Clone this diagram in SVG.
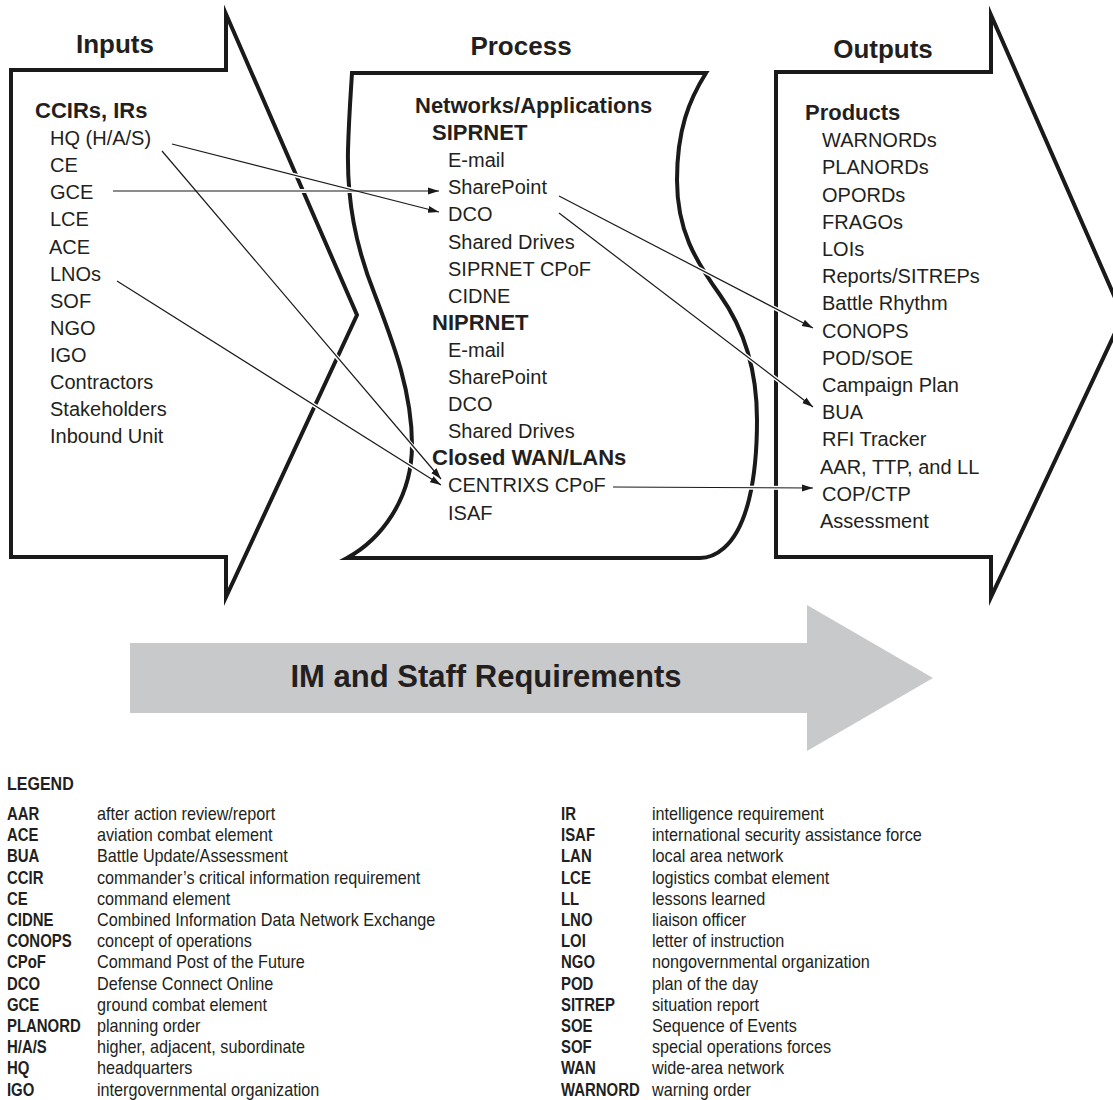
<svg xmlns="http://www.w3.org/2000/svg" width="1113" height="1100" viewBox="0 0 1113 1100">
<style>
text{font-family:"Liberation Sans",Arial,sans-serif;fill:#231f20}
.title{font-size:26px;font-weight:bold}
.hd{font-size:22px;font-weight:bold}
.it{font-size:20px}
.shape{fill:#fff;stroke:#1a1a1a;stroke-width:4;stroke-linejoin:miter;stroke-miterlimit:20}
.lab{font-size:18px;font-weight:bold}
.desc{font-size:18px}
.halo line{stroke:#fff;stroke-width:4}
.conn line{stroke:#1a1a1a;stroke-width:1.2}
</style>
<defs>
<marker id="ah" markerUnits="userSpaceOnUse" markerWidth="11" markerHeight="8" refX="11" refY="4" orient="auto">
<path d="M0,0.5 L11,4 L0,7.5 z" fill="#1a1a1a"/>
</marker>
</defs>
<rect width="1113" height="1100" fill="#fff"/>

<g id="process">
<path class="shape" d="M352,73 L706,73 C689,100 677,130 677,180 C677,230 695,260 720,295 C745,330 757,370 757,420 C757,480 747,528 724,548 C716,555 708,558 700,558 L347,558 C380,540 412,500 412,445 C412,390 392,340 375,295 C355,245 347,200 348,150 C349,115 351,90 352,73 Z"/>
<text class="title" x="521" y="55" text-anchor="middle">Process</text>
<text class="hd" x="415" y="113">Networks/Applications</text>
<text class="hd" x="432" y="140.1">SIPRNET</text>
<text class="it" x="448" y="167.2">E-mail</text>
<text class="it" x="448" y="194.3">SharePoint</text>
<text class="it" x="448" y="221.4">DCO</text>
<text class="it" x="448" y="248.5">Shared Drives</text>
<text class="it" x="448" y="275.6">SIPRNET CPoF</text>
<text class="it" x="448" y="302.7">CIDNE</text>
<text class="hd" x="432" y="329.8">NIPRNET</text>
<text class="it" x="448" y="356.9">E-mail</text>
<text class="it" x="448" y="384">SharePoint</text>
<text class="it" x="448" y="411.1">DCO</text>
<text class="it" x="448" y="438.2">Shared Drives</text>
<text class="hd" x="432" y="465.3">Closed WAN/LANs</text>
<text class="it" x="448" y="492.4">CENTRIXS CPoF</text>
<text class="it" x="448" y="519.5">ISAF</text>
</g>

<g id="inputs">
<polygon class="shape" points="11,70 226,70 226,14 357,315 226,597 226,557 11,557"/>
<text class="title" x="115" y="53" text-anchor="middle">Inputs</text>
<text class="hd" x="35" y="118">CCIRs, IRs</text>
<text class="it" x="50" y="145.1">HQ (H/A/S)</text>
<text class="it" x="50" y="172.2">CE</text>
<text class="it" x="50" y="199.3">GCE</text>
<text class="it" x="50" y="226.4">LCE</text>
<text class="it" x="49" y="253.5">ACE</text>
<text class="it" x="50" y="280.6">LNOs</text>
<text class="it" x="50" y="307.7">SOF</text>
<text class="it" x="50" y="334.8">NGO</text>
<text class="it" x="50" y="361.9">IGO</text>
<text class="it" x="50" y="389">Contractors</text>
<text class="it" x="50" y="416.1">Stakeholders</text>
<text class="it" x="50" y="443.2">Inbound Unit</text>
</g>

<g id="outputs">
<polygon class="shape" points="776,72 991,72 991,15 1123,316 991,597 991,557 776,557"/>
<text class="title" x="883" y="58" text-anchor="middle">Outputs</text>
<text class="hd" x="805" y="120">Products</text>
<text class="it" x="822" y="147.2">WARNORDs</text>
<text class="it" x="822" y="174.4">PLANORDs</text>
<text class="it" x="822" y="201.6">OPORDs</text>
<text class="it" x="822" y="228.8">FRAGOs</text>
<text class="it" x="822" y="256">LOIs</text>
<text class="it" x="822" y="283.2">Reports/SITREPs</text>
<text class="it" x="822" y="310.4">Battle Rhythm</text>
<text class="it" x="822" y="337.6">CONOPS</text>
<text class="it" x="822" y="364.8">POD/SOE</text>
<text class="it" x="822" y="392">Campaign Plan</text>
<text class="it" x="822" y="419.2">BUA</text>
<text class="it" x="822" y="446.4">RFI Tracker</text>
<text class="it" x="820" y="473.6">AAR, TTP, and LL</text>
<text class="it" x="822" y="500.8">COP/CTP</text>
<text class="it" x="820" y="528">Assessment</text>
</g>

<g id="connectors">
<g class="halo">
<line x1="172" y1="144" x2="433" y2="210.5"/>
<line x1="113" y1="191" x2="433" y2="191"/>
<line x1="162" y1="151" x2="437" y2="475"/>
<line x1="117" y1="281" x2="436" y2="482"/>
<line x1="559" y1="196" x2="808" y2="325.5"/>
<line x1="559" y1="213" x2="808" y2="403"/>
<line x1="613" y1="487" x2="808" y2="488"/>
</g>
<g class="conn">
<line x1="172" y1="144" x2="439" y2="212" marker-end="url(#ah)"/>
<line x1="113" y1="191" x2="439" y2="191" marker-end="url(#ah)"/>
<line x1="162" y1="151" x2="441" y2="479" marker-end="url(#ah)"/>
<line x1="117" y1="281" x2="441" y2="485" marker-end="url(#ah)"/>
<line x1="559" y1="196" x2="813" y2="328" marker-end="url(#ah)"/>
<line x1="559" y1="213" x2="813" y2="407" marker-end="url(#ah)"/>
<line x1="613" y1="487" x2="813" y2="488" marker-end="url(#ah)"/>
</g>
</g>

<g id="im-arrow">
<polygon points="130,643 807,643 807,605 933,678 807,751 807,713 130,713" fill="#c8c9cb"/>
<text x="486" y="687" text-anchor="middle" style="font-size:31px;font-weight:bold">IM and Staff Requirements</text>
</g>

<g id="legend">
<text x="7.9" y="790" transform="scale(0.89,1)" style="font-size:18px;font-weight:bold">LEGEND</text>
<g transform="scale(0.83,1)" class="lab">
<text class="lab" x="8.4" y="820">AAR</text>
<text class="lab" x="8.4" y="841.2">ACE</text>
<text class="lab" x="8.4" y="862.4">BUA</text>
<text class="lab" x="8.4" y="883.6">CCIR</text>
<text class="lab" x="8.4" y="904.8">CE</text>
<text class="lab" x="8.4" y="926">CIDNE</text>
<text class="lab" x="8.4" y="947.2">CONOPS</text>
<text class="lab" x="8.4" y="968.4">CPoF</text>
<text class="lab" x="8.4" y="989.6">DCO</text>
<text class="lab" x="8.4" y="1010.8">GCE</text>
<text class="lab" x="8.4" y="1032">PLANORD</text>
<text class="lab" x="8.4" y="1053.2">H/A/S</text>
<text class="lab" x="8.4" y="1074.4">HQ</text>
<text class="lab" x="8.4" y="1095.6">IGO</text>
<text class="lab" x="675.9" y="820">IR</text>
<text class="lab" x="675.9" y="841.2">ISAF</text>
<text class="lab" x="675.9" y="862.4">LAN</text>
<text class="lab" x="675.9" y="883.6">LCE</text>
<text class="lab" x="675.9" y="904.8">LL</text>
<text class="lab" x="675.9" y="926">LNO</text>
<text class="lab" x="675.9" y="947.2">LOI</text>
<text class="lab" x="675.9" y="968.4">NGO</text>
<text class="lab" x="675.9" y="989.6">POD</text>
<text class="lab" x="675.9" y="1010.8">SITREP</text>
<text class="lab" x="675.9" y="1032">SOE</text>
<text class="lab" x="675.9" y="1053.2">SOF</text>
<text class="lab" x="675.9" y="1074.4">WAN</text>
<text class="lab" x="675.9" y="1095.6">WARNORD</text>
</g>
<g transform="scale(0.9,1)">
<text class="desc" x="107.8" y="820">after action review/report</text>
<text class="desc" x="107.8" y="841.2">aviation combat element</text>
<text class="desc" x="107.8" y="862.4">Battle Update/Assessment</text>
<text class="desc" x="107.8" y="883.6">commander’s critical information requirement</text>
<text class="desc" x="107.8" y="904.8">command element</text>
<text class="desc" x="107.8" y="926">Combined Information Data Network Exchange</text>
<text class="desc" x="107.8" y="947.2">concept of operations</text>
<text class="desc" x="107.8" y="968.4">Command Post of the Future</text>
<text class="desc" x="107.8" y="989.6">Defense Connect Online</text>
<text class="desc" x="107.8" y="1010.8">ground combat element</text>
<text class="desc" x="107.8" y="1032">planning order</text>
<text class="desc" x="107.8" y="1053.2">higher, adjacent, subordinate</text>
<text class="desc" x="107.8" y="1074.4">headquarters</text>
<text class="desc" x="107.8" y="1095.6">intergovernmental organization</text>
<text class="desc" x="724.4" y="820">intelligence requirement</text>
<text class="desc" x="724.4" y="841.2">international security assistance force</text>
<text class="desc" x="724.4" y="862.4">local area network</text>
<text class="desc" x="724.4" y="883.6">logistics combat element</text>
<text class="desc" x="724.4" y="904.8">lessons learned</text>
<text class="desc" x="724.4" y="926">liaison officer</text>
<text class="desc" x="724.4" y="947.2">letter of instruction</text>
<text class="desc" x="724.4" y="968.4">nongovernmental organization</text>
<text class="desc" x="724.4" y="989.6">plan of the day</text>
<text class="desc" x="724.4" y="1010.8">situation report</text>
<text class="desc" x="724.4" y="1032">Sequence of Events</text>
<text class="desc" x="724.4" y="1053.2">special operations forces</text>
<text class="desc" x="724.4" y="1074.4">wide-area network</text>
<text class="desc" x="724.4" y="1095.6">warning order</text>
</g>
</g>
</svg>
